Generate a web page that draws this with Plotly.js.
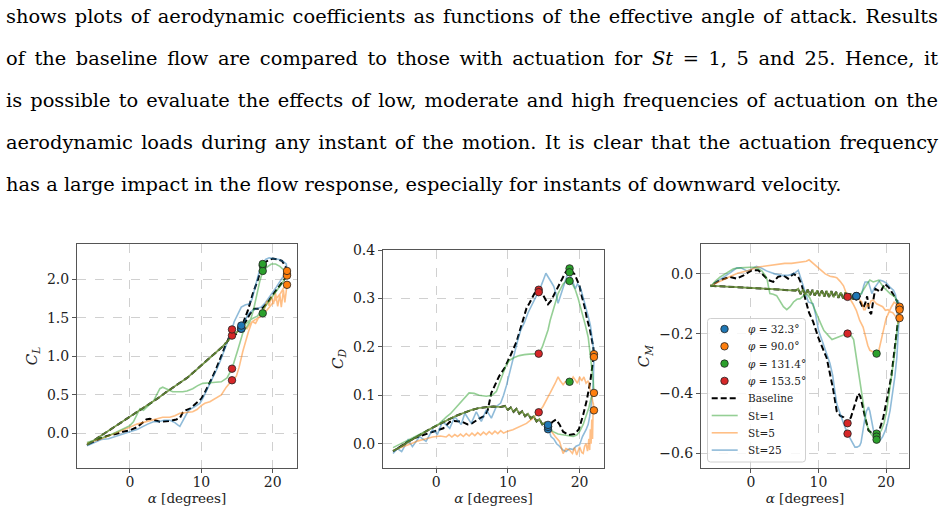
<!DOCTYPE html>
<html><head><meta charset="utf-8">
<script src="https://cdn.plot.ly/plotly-3.0.1.min.js"></script>
<style>
html,body{margin:0;padding:0;background:#fff;width:944px;height:514px;overflow:hidden;}
#chart{position:absolute;left:0;top:0;width:944px;height:514px;}
.ln{position:absolute;left:6px;width:932px;font-family:'DejaVu Serif',serif;font-size:19.4px;line-height:26px;color:#000;white-space:nowrap;}
.j{text-align:justify;text-align-last:justify;white-space:normal;}
</style></head><body>
<div id="chart"></div>
<div class="ln j" style="top:4px">shows plots of aerodynamic coefficients as functions of the effective angle of attack. Results</div>
<div class="ln j" style="top:46px">of the baseline flow are compared to those with actuation for <i>St</i> = 1, 5 and 25. Hence, it</div>
<div class="ln j" style="top:88px">is possible to evaluate the effects of low, moderate and high frequencies of actuation on the</div>
<div class="ln j" style="top:130px">aerodynamic loads during any instant of the motion. It is clear that the actuation frequency</div>
<div class="ln" style="top:172px">has a large impact in the flow response, especially for instants of downward velocity.</div>
<script>
// ---------- series / legend labels ----------
const seriesNames = ['Baseline', 'St=1', 'St=5', 'St=25'];
const phiLabels = ['<i>φ</i> = 32.3°', '<i>φ</i> = 90.0°', '<i>φ</i> = 131.4°', '<i>φ</i> = 153.5°'];
const phiAlpha = [15.6, 22.0, 18.6, 14.3];
const xTicks = [0, 10, 20];

// ---------- C_L ----------
const alphaUpCL = [-6,-5,-4,-3,-2,-1,0,1,2,3,4,5,6,7,8,9,10,11,12,13,14,15,15.6];
const clUp = [-0.15,-0.09,-0.03,0.03,0.09,0.16,0.22,0.28,0.34,0.40,0.46,0.53,0.59,0.66,0.72,0.80,0.88,0.96,1.04,1.13,1.23,1.32,1.37];
const alphaBaseCL = [16.2,16.8,17.4,18.0,18.6,19.3,20.0,20.7,21.3,21.8,22.0,21.8,21.3,20.7,20.0,19.4,18.9,18.5,17.9,17.2,16.5,15.8,15.1,14.4,13.9,13.3,12.6,12.0,11.4,10.9,10.5,10.0,9.3,8.8,8.4,7.8,7.4,7.0,6.5,5.6,4.8,4.2,3.5,2.8,2.3,1.9,1.0,0.0,-1.0,-2.0,-2.7,-4.0,-5.0,-6.0];
const clBase = [1.45,1.55,1.62,1.62,1.63,1.70,1.80,1.88,1.96,2.02,2.07,2.17,2.24,2.26,2.27,2.25,2.22,2.18,1.99,1.81,1.59,1.42,1.30,1.27,1.25,1.12,0.95,0.82,0.70,0.60,0.53,0.45,0.39,0.35,0.32,0.30,0.27,0.20,0.18,0.16,0.15,0.15,0.17,0.19,0.18,0.15,0.08,0.04,0.02,-0.01,-0.02,-0.06,-0.10,-0.15];
const alphaSt1CL = [16.2,16.8,17.3,17.8,18.4,19.0,19.8,20.6,21.3,22.0,21.6,21.0,20.4,19.8,19.2,18.6,18.2,17.8,17.3,16.8,16.3,15.8,15.1,14.3,13.6,12.8,11.6,10.2,9.5,8.8,8.0,7.4,6.0,5.1,4.6,4.2,3.8,3.3,2.8,2.3,1.9,1.4,1.0,0.5,0.0,-1.0,-2.0,-3.0,-4.0,-5.0,-6.0];
const clSt1 = [1.42,1.47,1.50,1.52,1.58,1.66,1.76,1.86,1.95,2.05,2.12,2.17,2.20,2.20,2.16,2.11,1.98,1.80,1.60,1.45,1.38,1.30,1.08,0.84,0.72,0.67,0.66,0.65,0.62,0.58,0.55,0.54,0.54,0.58,0.60,0.58,0.50,0.42,0.38,0.33,0.30,0.32,0.24,0.15,0.10,0.05,0.01,-0.03,-0.06,-0.09,-0.12];
const alphaSt5CL = [16.0,16.4,16.8,17.2,17.6,18.0,18.4,18.8,19.2,19.5,19.8,20.1,20.4,20.7,21.0,21.2,21.5,21.7,22.0,21.6,21.1,20.6,20.1,19.6,19.1,18.6,18.2,17.6,17.1,16.6,16.2,15.8,15.3,14.9,14.3,13.5,12.8,11.9,11.2,10.5,10.0,9.4,8.8,7.9,7.0,6.3,5.6,4.6,3.7,2.8,1.9,1.0,0.0,-1.0,-2.0,-3.0,-4.0,-5.0,-6.0];
const clSt5 = [1.40,1.36,1.42,1.45,1.43,1.50,1.55,1.60,1.72,1.66,1.78,1.68,1.82,1.65,1.80,1.64,1.86,1.70,1.93,1.90,1.82,1.76,1.70,1.64,1.59,1.56,1.51,1.48,1.45,1.32,1.20,1.06,0.86,0.74,0.69,0.60,0.50,0.45,0.41,0.39,0.36,0.31,0.28,0.27,0.26,0.23,0.21,0.21,0.19,0.17,0.15,0.12,0.08,0.04,0.00,-0.04,-0.07,-0.10,-0.13];
const alphaSt25CL = [16.0,16.6,17.2,17.8,18.4,19.0,19.8,20.5,21.2,21.7,22.0,21.9,21.5,20.9,20.2,19.5,19.0,18.6,18.1,17.6,17.1,16.7,16.2,15.6,15.1,14.6,14.3,13.8,13.3,12.7,12.1,11.5,10.9,10.3,9.8,9.0,8.4,8.1,7.6,7.2,7.0,6.7,6.3,5.6,4.8,4.0,3.3,2.5,1.9,1.0,0.0,-1.0,-2.0,-3.0,-4.0,-5.0,-6.0];
const clSt25 = [1.45,1.55,1.60,1.62,1.64,1.70,1.80,1.90,2.00,2.07,2.11,2.20,2.23,2.26,2.27,2.28,2.26,2.20,2.10,1.92,1.74,1.68,1.67,1.64,1.55,1.45,1.35,1.22,1.08,0.95,0.82,0.70,0.58,0.47,0.39,0.35,0.31,0.28,0.20,0.12,0.09,0.11,0.14,0.17,0.17,0.15,0.15,0.12,0.09,0.05,0.02,-0.01,-0.04,-0.07,-0.08,-0.12,-0.16];
// marker values per phase: [Baseline, St=1, St=5, St=25]
const clPhi32 = [1.36, 1.37, 1.36, 1.40];
const clPhi90 = [2.07, 2.05, 1.93, 2.11];
const clPhi131 = [2.18, 2.11, 1.56, 2.20];
const clPhi153 = [1.27, 0.84, 0.69, 1.35];
const clTicks = [0, 0.5, 1.0, 1.5, 2.0];

// ---------- C_D ----------
const alphaUpCD = [-6,-5,-4,-3,-2,-1,0,1,2,3,4,5,6,7,8,9,9.6,10.0,10.4,10.8,11.2,11.6,12.0,12.4,12.8,13.2,13.6,14.0,14.4,14.8,15.2,15.6];
const cdUp = [-0.015,-0.007,0.003,0.012,0.021,0.029,0.037,0.045,0.052,0.059,0.065,0.07,0.074,0.076,0.077,0.076,0.078,0.07,0.075,0.066,0.072,0.062,0.067,0.057,0.062,0.052,0.057,0.046,0.051,0.04,0.044,0.035];
const alphaBaseCD = [16.2,16.7,17.2,17.7,18.5,19.3,19.9,20.5,21.0,21.5,21.8,22.0,21.9,21.6,21.4,21.0,20.7,20.3,20.0,19.6,19.3,18.8,18.4,17.9,17.4,16.9,16.4,16.0,15.6,15.2,14.8,14.2,13.7,13.0,12.6,12.0,11.2,10.3,9.5,8.8,8.0,7.7,7.2,6.8,6.0,5.0,4.4,3.5,2.5,1.9,1.0,0.0,-1.0,-2.0,-3.0,-4.0,-5.0,-6.0];
const cdBase = [0.045,0.05,0.04,0.025,0.018,0.02,0.03,0.06,0.09,0.13,0.16,0.185,0.2,0.225,0.238,0.26,0.283,0.305,0.325,0.34,0.35,0.358,0.362,0.35,0.335,0.322,0.305,0.295,0.288,0.3,0.31,0.318,0.31,0.29,0.28,0.25,0.21,0.18,0.155,0.14,0.115,0.105,0.07,0.058,0.052,0.042,0.04,0.046,0.047,0.045,0.032,0.027,0.023,0.018,0.012,0.004,-0.006,-0.016];
const alphaSt1CD = [16.3,17.0,17.7,18.4,19.1,19.6,20.0,20.5,20.9,21.3,21.6,22.0,21.9,21.7,21.5,21.2,20.8,20.5,20.1,19.8,19.4,19.0,18.6,18.1,17.7,17.3,17.0,16.6,16.3,15.9,15.6,15.2,14.8,14.3,13.6,13.0,12.3,11.6,10.9,10.2,9.7,9.3,8.8,8.4,7.8,7.0,6.0,5.3,4.6,4.0,3.5,2.8,2.0,1.4,0.5,-0.9,-2.0,-3.3,-4.5,-6.0];
const cdSt1 = [0.025,0.02,0.018,0.016,0.015,0.018,0.025,0.04,0.056,0.075,0.095,0.105,0.13,0.16,0.19,0.22,0.245,0.262,0.285,0.3,0.318,0.33,0.336,0.335,0.33,0.32,0.31,0.29,0.276,0.255,0.235,0.215,0.2,0.186,0.186,0.185,0.184,0.182,0.178,0.172,0.16,0.145,0.125,0.108,0.1,0.098,0.1,0.104,0.105,0.095,0.085,0.075,0.062,0.055,0.042,0.03,0.022,0.012,0.003,-0.008];
const alphaSt5CD = [16.0,16.6,17.2,17.5,17.7,18.1,18.6,19.0,19.3,19.6,20.0,20.3,20.5,20.7,20.9,21.1,21.3,21.4,21.5,21.6,21.7,21.8,21.9,22.0,21.8,21.5,21.2,20.9,20.6,20.3,20.0,19.7,19.4,19.1,18.8,18.4,18.0,17.7,17.3,17.0,16.6,16.3,15.9,15.6,15.2,14.9,14.3,13.5,12.6,11.6,10.7,9.8,9.4,9.0,8.6,8.2,7.8,7.4,7.0,6.6,6.2,5.8,5.4,5.0,4.6,4.2,3.8,3.4,3.0,2.6,2.2,1.8,1.4,0.6,-0.5,-1.5,-2.5,-3.5,-4.5,-5.3,-6.0];
const cdSt5 = [0.026,0.015,0.005,-0.01,-0.02,-0.01,-0.013,-0.02,-0.008,-0.023,-0.006,-0.018,-0.02,-0.005,0.0,-0.015,0.01,-0.013,0.03,0.0,0.05,0.01,0.085,0.069,0.09,0.11,0.13,0.125,0.138,0.13,0.138,0.125,0.132,0.138,0.13,0.128,0.128,0.122,0.13,0.138,0.125,0.115,0.105,0.097,0.085,0.077,0.065,0.053,0.042,0.035,0.029,0.025,0.022,0.027,0.021,0.026,0.02,0.025,0.019,0.024,0.018,0.023,0.017,0.022,0.016,0.021,0.015,0.02,0.015,0.019,0.014,0.019,0.014,0.016,0.014,0.01,0.006,0.0,-0.005,-0.01,-0.014];
const alphaSt25CD = [16.0,16.4,16.8,17.2,17.6,18.1,18.6,19.1,19.5,20.0,20.4,20.9,21.2,21.4,21.7,21.9,22.0,21.9,21.7,21.5,21.2,20.9,20.5,20.2,20.0,19.7,19.4,19.1,18.8,18.4,18.1,17.8,17.5,17.2,17.0,16.7,16.4,16.0,15.6,15.3,15.0,14.6,14.3,13.8,13.3,12.8,12.3,11.8,11.4,11.0,10.6,10.2,9.8,9.4,9.0,8.4,7.7,7.0,6.3,5.6,4.9,4.0,3.5,2.6,1.9,0.9,0.2,-0.5,-1.4,-2.3,-3.3,-3.9,-4.8,-5.4,-6.0];
const cdSt25 = [0.015,0.01,0.0,-0.005,-0.012,-0.016,-0.01,-0.012,-0.005,-0.002,0.015,0.029,0.04,0.056,0.09,0.125,0.179,0.2,0.22,0.245,0.263,0.28,0.304,0.318,0.325,0.33,0.32,0.335,0.345,0.354,0.34,0.325,0.31,0.3,0.29,0.31,0.325,0.335,0.345,0.352,0.34,0.325,0.313,0.3,0.285,0.27,0.25,0.235,0.215,0.19,0.17,0.14,0.12,0.1,0.084,0.077,0.053,0.07,0.046,0.066,0.042,0.063,0.04,0.056,0.032,0.046,0.02,0.029,0.005,0.015,-0.006,0.008,-0.016,-0.01,-0.02];
const cdPhi32 = [0.035, 0.03, 0.035, 0.039];
const cdPhi90 = [0.185, 0.105, 0.069, 0.179];
const cdPhi131 = [0.362, 0.336, 0.128, 0.354];
const cdPhi153 = [0.318, 0.186, 0.065, 0.313];
const cdTicks = [0, 0.1, 0.2, 0.3, 0.4];

// ---------- C_M ----------
const alphaUpCM = [-6,-5,-4,-3,-2,-1,0,1,2,3,4,5,6,6.6,7.0,7.35,7.7,8.05,8.4,8.75,9.1,9.45,9.8,10.15,10.5,10.85,11.2,11.55,11.9,12.25,12.6,12.95,13.3,13.65,14.0,14.35,14.7,15.05,15.4,15.6];
const cmUp = [-0.04,-0.041,-0.042,-0.043,-0.045,-0.046,-0.047,-0.048,-0.05,-0.051,-0.052,-0.054,-0.055,-0.056,-0.05,-0.068,-0.052,-0.07,-0.053,-0.071,-0.054,-0.073,-0.055,-0.074,-0.056,-0.076,-0.057,-0.077,-0.058,-0.078,-0.06,-0.08,-0.062,-0.082,-0.063,-0.083,-0.065,-0.085,-0.066,-0.075];
const alphaBaseCM = [16.1,16.6,16.9,17.2,17.5,17.8,18.1,18.4,18.8,19.2,19.8,20.4,21.1,21.6,22.0,21.8,21.4,21.1,20.8,20.4,20.0,19.6,19.2,18.9,18.6,18.0,17.4,17.1,16.9,16.5,16.2,15.9,15.5,15.2,14.8,14.3,13.7,13.2,12.7,12.2,11.7,11.2,10.7,10.0,9.2,8.6,8.0,7.5,7.0,6.3,5.5,4.8,4.0,3.3,2.6,1.8,1.1,0.1,-1.1,-2.1,-3.1,-4.6,-6.0];
const cmBase = [-0.09,-0.115,-0.1,-0.075,-0.125,-0.135,-0.09,-0.05,-0.055,-0.06,-0.033,-0.045,-0.07,-0.09,-0.115,-0.155,-0.22,-0.29,-0.34,-0.39,-0.44,-0.48,-0.51,-0.53,-0.535,-0.535,-0.524,-0.5,-0.48,-0.44,-0.41,-0.4,-0.43,-0.458,-0.48,-0.5,-0.48,-0.475,-0.46,-0.39,-0.33,-0.28,-0.254,-0.215,-0.16,-0.13,-0.08,-0.035,-0.01,0.0,-0.016,-0.005,-0.01,-0.027,-0.021,-0.005,0.012,0.012,-0.005,-0.016,-0.01,-0.021,-0.04];
const alphaSt1CM = [16.2,16.7,17.2,17.6,18.1,18.9,19.6,20.6,21.3,22.0,21.8,21.6,21.2,20.8,20.4,20.1,19.7,19.3,18.6,17.9,17.5,17.1,16.8,16.4,15.9,15.5,15.2,14.8,14.3,13.7,13.2,12.6,12.0,11.6,11.2,10.8,10.4,9.8,9.2,8.7,8.2,7.7,7.3,6.8,6.3,5.8,5.3,4.8,4.3,3.8,3.3,2.8,2.6,2.4,2.1,1.6,1.1,0.5,-0.1,-0.8,-1.6,-2.6,-3.5,-4.6,-5.3,-6.0];
const cmSt1 = [-0.07,-0.05,-0.033,-0.021,-0.027,-0.021,-0.044,-0.066,-0.077,-0.11,-0.15,-0.21,-0.28,-0.345,-0.41,-0.457,-0.5,-0.524,-0.545,-0.54,-0.525,-0.5,-0.46,-0.4,-0.32,-0.26,-0.22,-0.205,-0.2,-0.205,-0.21,-0.215,-0.22,-0.21,-0.2,-0.19,-0.17,-0.14,-0.11,-0.08,-0.065,-0.075,-0.083,-0.085,-0.094,-0.11,-0.12,-0.11,-0.09,-0.073,-0.068,-0.066,-0.044,-0.02,-0.005,0.01,0.017,0.022,0.022,0.022,0.02,0.017,0.005,-0.011,-0.025,-0.044];
const alphaSt5CM = [16.0,16.4,16.7,16.9,17.2,17.4,17.8,18.1,18.6,19.1,19.5,19.9,20.3,20.6,21.0,21.3,21.6,21.8,22.0,21.8,21.5,21.2,20.8,20.4,20.0,19.6,19.2,18.9,18.6,18.2,17.9,17.6,17.3,17.1,16.8,16.6,16.1,15.6,15.1,14.7,14.3,13.7,13.2,12.7,12.2,11.7,11.0,10.2,9.5,9.0,8.6,8.2,7.5,6.8,6.0,5.0,4.0,3.0,2.0,0.8,-0.2,-1.0,-2.0,-3.0,-4.0,-5.0,-6.0];
const cmSt5 = [-0.085,-0.094,-0.12,-0.12,-0.1,-0.11,-0.09,-0.088,-0.1,-0.105,-0.11,-0.122,-0.12,-0.127,-0.13,-0.139,-0.15,-0.166,-0.148,-0.125,-0.1,-0.095,-0.11,-0.13,-0.15,-0.19,-0.23,-0.26,-0.267,-0.262,-0.26,-0.256,-0.24,-0.222,-0.2,-0.178,-0.156,-0.122,-0.1,-0.085,-0.077,-0.04,-0.025,-0.013,-0.01,-0.008,0.0,0.015,0.03,0.04,0.047,0.042,0.04,0.038,0.035,0.035,0.032,0.03,0.027,0.022,0.012,0.008,0.002,-0.008,-0.018,-0.028,-0.04];
const alphaSt25CM = [16.0,16.4,16.7,16.9,17.4,17.7,17.9,18.2,18.4,18.8,19.1,19.6,20.1,20.6,21.1,21.4,21.6,21.7,21.8,22.0,21.9,21.8,21.6,21.3,20.9,20.6,20.2,19.9,19.5,19.1,18.6,18.4,18.1,17.9,17.6,17.4,17.1,16.9,16.6,16.3,16.1,15.7,15.4,15.0,14.7,14.3,13.7,13.2,12.7,12.4,12.1,11.7,11.2,10.7,10.3,10.0,9.6,9.2,8.5,7.75,7.5,7.26,7.0,6.6,6.3,5.5,4.5,3.5,2.8,2.3,1.5,0.8,0.0,-0.6,-1.5,-2.1,-3.0,-4.0,-5.0,-6.0];
const cmSt25 = [-0.07,-0.066,-0.04,-0.027,-0.027,-0.05,-0.066,-0.05,-0.044,-0.03,-0.021,-0.025,-0.032,-0.045,-0.055,-0.07,-0.1,-0.15,-0.088,-0.12,-0.17,-0.234,-0.28,-0.345,-0.41,-0.457,-0.5,-0.524,-0.545,-0.558,-0.555,-0.546,-0.52,-0.49,-0.46,-0.446,-0.46,-0.48,-0.53,-0.565,-0.575,-0.58,-0.58,-0.565,-0.55,-0.535,-0.5,-0.47,-0.435,-0.39,-0.34,-0.3,-0.265,-0.234,-0.21,-0.189,-0.14,-0.1,-0.094,-0.044,-0.025,-0.01,0.012,0.005,0.0,-0.005,-0.005,0.0,0.005,0.01,0.02,0.025,0.015,0.01,0.02,0.02,0.005,-0.01,-0.025,-0.04];
const cmPhi32 = [-0.075, -0.075, -0.075, -0.074];
const cmPhi90 = [-0.115, -0.11, -0.148, -0.12];
const cmPhi131 = [-0.535, -0.545, -0.267, -0.555];
const cmPhi153 = [-0.5, -0.2, -0.077, -0.535];
const cmTicks = [-0.6, -0.4, -0.2, 0.0];

// ---------- build ----------
const lineColors = {'Baseline':'#000000','St=1':'rgba(44,160,44,0.5)','St=5':'rgba(255,127,14,0.5)','St=25':'rgba(31,119,180,0.5)'};
const markerColors = ['#1f77b4', '#ff7f0e', '#2ca02c', '#d62728'];
const drawOrder = ['Baseline','St=25','St=5','St=1'];

const panels = [
  {xa:'x', ya:'y', up:[alphaUpCL, clUp],
   rest:{'Baseline':[alphaBaseCL, clBase],'St=1':[alphaSt1CL, clSt1],'St=5':[alphaSt5CL, clSt5],'St=25':[alphaSt25CL, clSt25]},
   phi:[clPhi32, clPhi90, clPhi131, clPhi153]},
  {xa:'x2', ya:'y2', up:[alphaUpCD, cdUp],
   rest:{'Baseline':[alphaBaseCD, cdBase],'St=1':[alphaSt1CD, cdSt1],'St=5':[alphaSt5CD, cdSt5],'St=25':[alphaSt25CD, cdSt25]},
   phi:[cdPhi32, cdPhi90, cdPhi131, cdPhi153]},
  {xa:'x3', ya:'y3', up:[alphaUpCM, cmUp],
   rest:{'Baseline':[alphaBaseCM, cmBase],'St=1':[alphaSt1CM, cmSt1],'St=5':[alphaSt5CM, cmSt5],'St=25':[alphaSt25CM, cmSt25]},
   phi:[cmPhi32, cmPhi90, cmPhi131, cmPhi153]}
];

const traces = [];
panels.forEach(p => {
  drawOrder.forEach(s => {
    const isBase = s === 'Baseline';
    traces.push({
      type:'scatter', mode:'lines', name:s, xaxis:p.xa, yaxis:p.ya,
      x: p.up[0].concat(p.rest[s][0]), y: p.up[1].concat(p.rest[s][1]),
      line:{color:lineColors[s], width: isBase ? 2 : 1.6, dash: isBase ? '6px,3px' : 'solid'},
      showlegend:false, hoverinfo:'skip'
    });
  });
  p.phi.forEach((vals, i) => {
    traces.push({
      type:'scatter', mode:'markers', name:phiLabels[i], xaxis:p.xa, yaxis:p.ya,
      x: vals.map(() => phiAlpha[i]), y: vals,
      marker:{color:markerColors[i], size:7.5, line:{color:'#222', width:0.8}},
      showlegend:false, hoverinfo:'skip'
    });
  });
});

const W = 944, H = 514;
const font = 'DejaVu Serif, serif';
const px = v => v / W, py = v => 1 - v / H;
function xAxis(l, r, anchor) {
  return {domain:[px(l), px(r)], range:[-7.4, 23.4], anchor:anchor, tickvals:xTicks,
    showline:true, mirror:true, linecolor:'#555', linewidth:1, ticks:'outside', ticklen:4, tickcolor:'#555',
    ticklabelstandoff:-3,
    showgrid:true, gridcolor:'#c4c4c4', griddash:'dash', gridwidth:0.8, zeroline:false,
    tickfont:{family:font, size:14, color:'#222'},
    title:{text:'<i>α</i> [degrees]', font:{family:font, size:13.5, color:'#222'}, standoff:3}};
}
function yAxis(t, b, anchor, range, ticks, fmt, title) {
  return {domain:[py(b), py(t)], range:range, anchor:anchor, tickvals:ticks, tickformat:fmt,
    showline:true, mirror:true, linecolor:'#555', linewidth:1, ticks:'outside', ticklen:4, tickcolor:'#555',
    showgrid:true, gridcolor:'#c4c4c4', griddash:'dash', gridwidth:0.8, zeroline:false,
    tickfont:{family:font, size:14, color:'#222'},
    title:{text:title, font:{family:font, size:15, color:'#222'}, standoff:5}};
}

// ---------- hand-built legend (matplotlib style, inside C_M panel) ----------
const legendTexts = phiLabels.concat(seriesNames);
const legBox = {l:707.5, r:805.5, t:318.5, b:462};
const legRow0 = 329, legPitch = 17.3, legHandleL = 711.7, legHandleR = 737.7, legMarkX = 724.5, legTextX = 746;
const shapes = [];
const annotations = [];
(function () {
  const r = 3;
  const L = legBox.l, R = legBox.r, T = legBox.t, B = legBox.b;
  const pth = `M ${px(L + r)},${py(T)} L ${px(R - r)},${py(T)} Q ${px(R)},${py(T)} ${px(R)},${py(T + r)} ` +
    `L ${px(R)},${py(B - r)} Q ${px(R)},${py(B)} ${px(R - r)},${py(B)} L ${px(L + r)},${py(B)} ` +
    `Q ${px(L)},${py(B)} ${px(L)},${py(B - r)} L ${px(L)},${py(T + r)} Q ${px(L)},${py(T)} ${px(L + r)},${py(T)} Z`;
  shapes.push({type:'path', xref:'paper', yref:'paper', path:pth, fillcolor:'rgba(255,255,255,0.82)',
    line:{color:'#d0d0d0', width:1}, layer:'above'});
  legendTexts.forEach((txt, i) => {
    const yc = legRow0 + i * legPitch;
    if (i < 4) {
      const rad = 3.75;
      shapes.push({type:'circle', xref:'paper', yref:'paper', x0:px(legMarkX - rad), x1:px(legMarkX + rad),
        y0:py(yc + rad), y1:py(yc - rad), fillcolor:markerColors[i], line:{color:'#222', width:0.8}, layer:'above'});
    } else {
      const s = seriesNames[i - 4];
      const isBase = s === 'Baseline';
      shapes.push({type:'line', xref:'paper', yref:'paper', x0:px(legHandleL), x1:px(legHandleR), y0:py(yc), y1:py(yc),
        line:{color:lineColors[s], width:isBase ? 2 : 1.6, dash:isBase ? '6px,3px' : 'solid'}, layer:'above'});
    }
    annotations.push({xref:'paper', yref:'paper', x:px(legTextX), y:py(yc), xanchor:'left', yanchor:'middle',
      text:txt, showarrow:false, font:{family:font, size:10.5, color:'#222'}});
  });
})();

const layout = {
  width:W, height:H, margin:{l:0, r:0, t:0, b:0},
  paper_bgcolor:'rgba(0,0,0,0)', plot_bgcolor:'#fff',
  showlegend:false,
  xaxis: xAxis(77, 297, 'y'),
  yaxis: yAxis(244, 468, 'x', [-0.45, 2.46], clTicks, '.1f', '<i>C</i><sub><i>L</i></sub>'),
  xaxis2: xAxis(383, 604, 'y2'),
  yaxis2: yAxis(250, 468, 'x2', [-0.05, 0.4], cdTicks, '.1f', '<i>C</i><sub><i>D</i></sub>'),
  xaxis3: xAxis(701, 909, 'y3'),
  yaxis3: yAxis(244, 468, 'x3', [-0.65, 0.1], cmTicks, '.1f', '<i>C</i><sub><i>M</i></sub>'),
  shapes: shapes,
  annotations: annotations,
  hovermode:false
};

Plotly.newPlot('chart', traces, layout, {staticPlot:true, displayModeBar:false});
</script>
</body></html>
